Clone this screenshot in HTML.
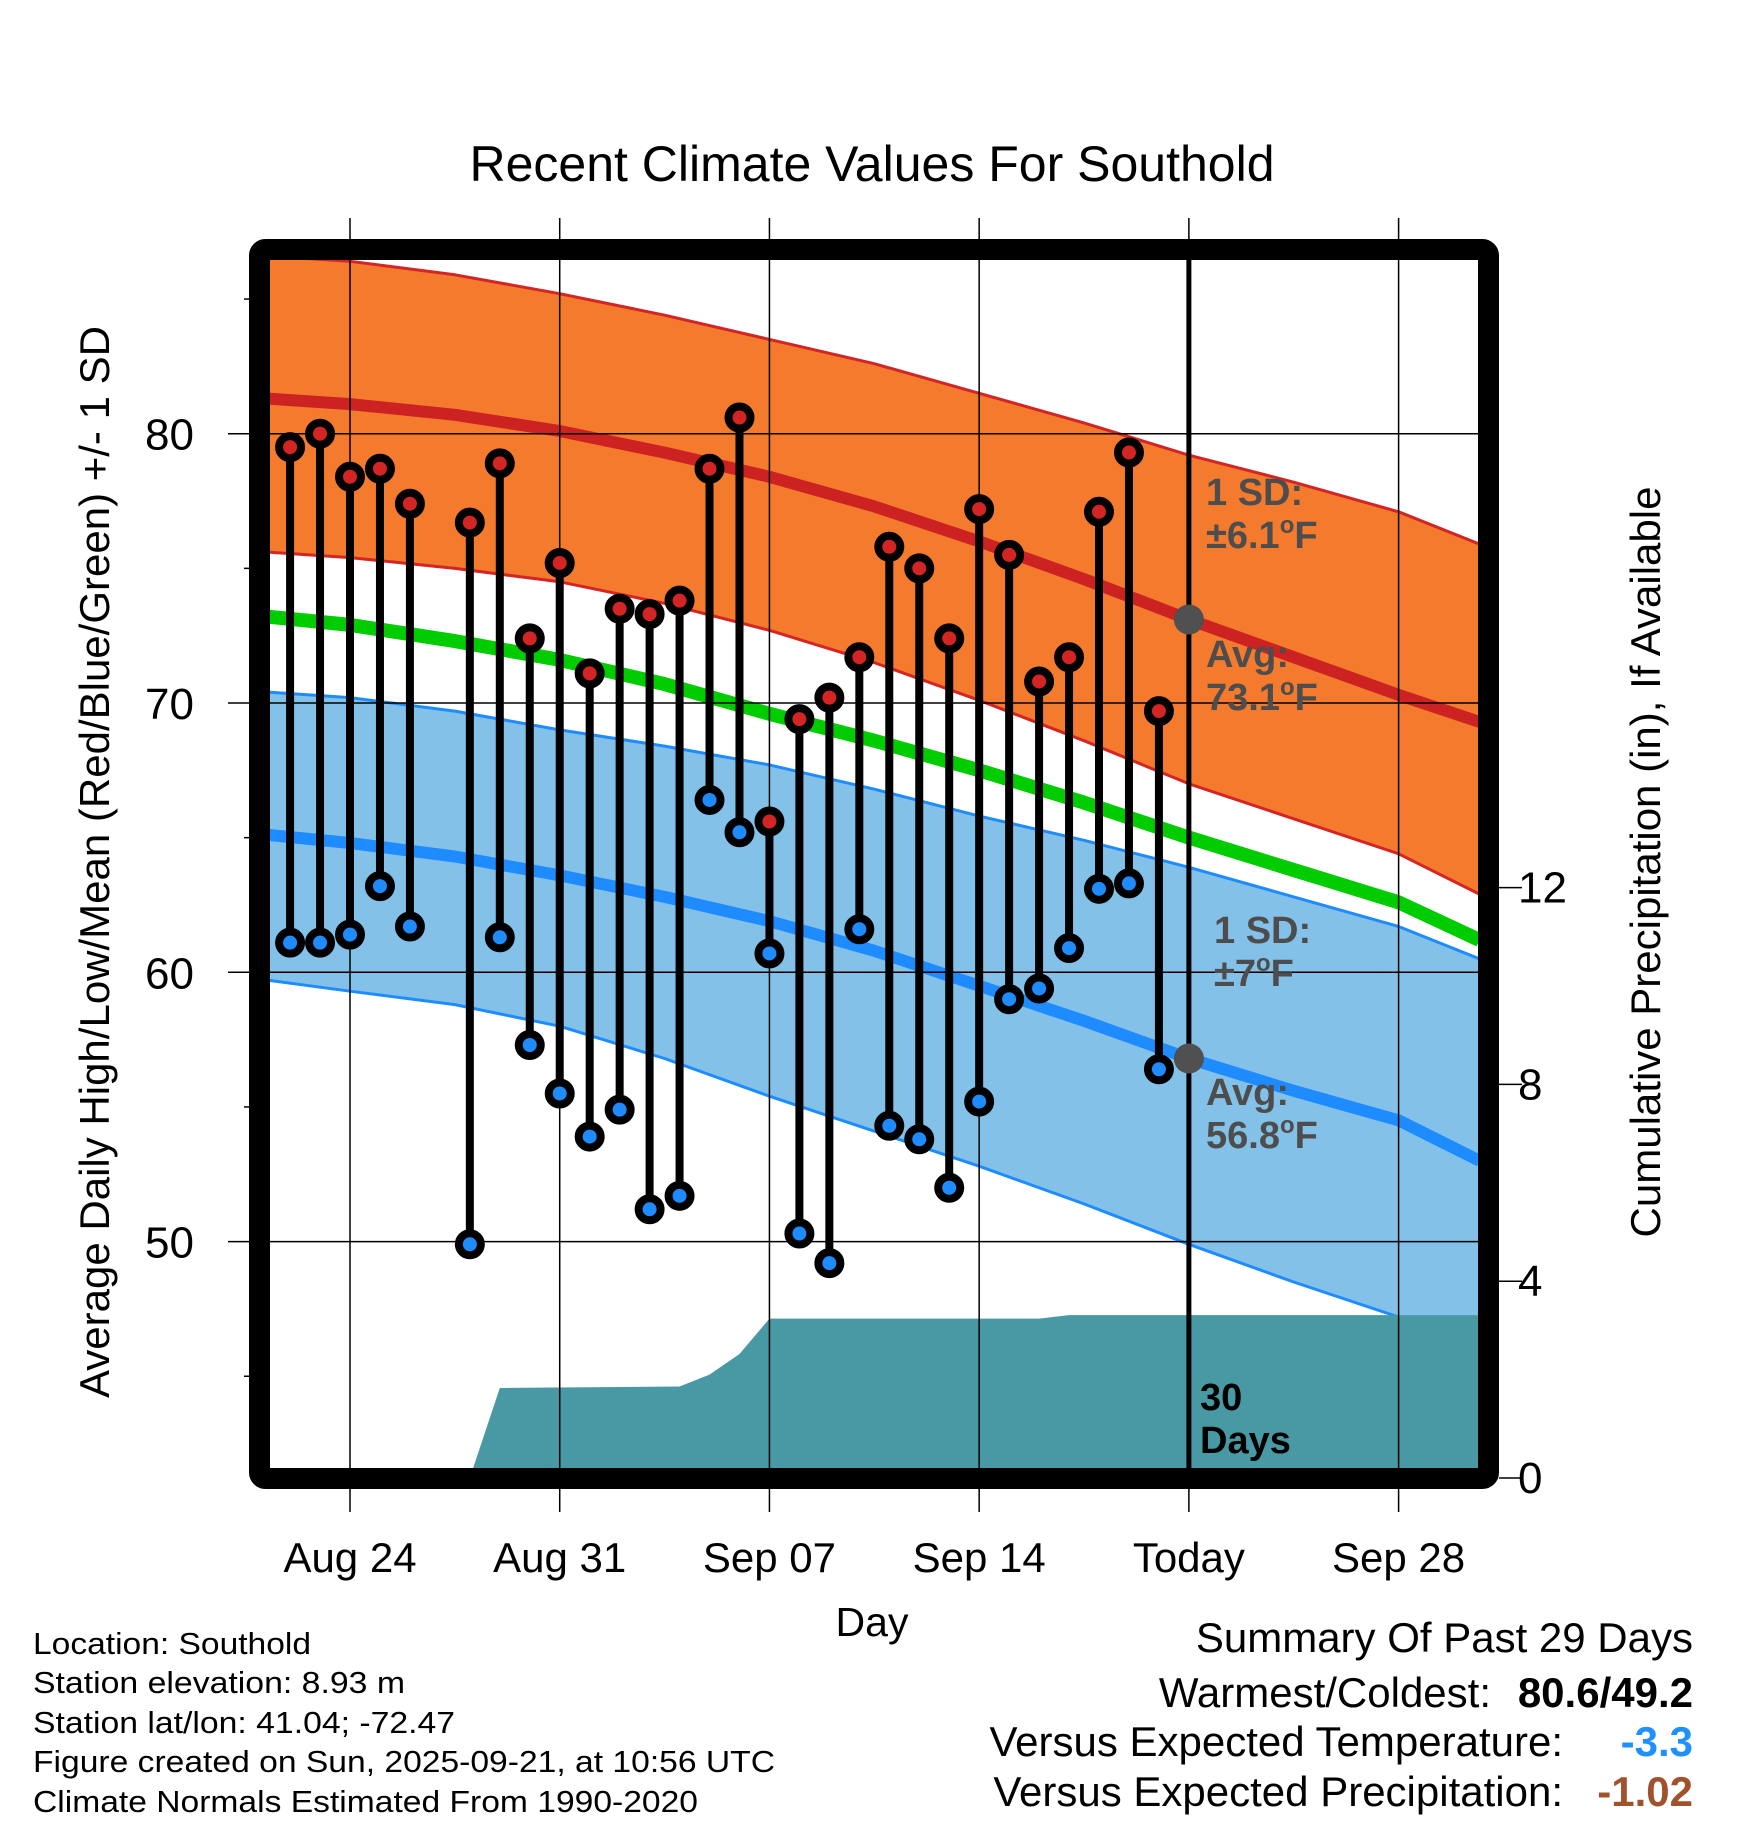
<!DOCTYPE html>
<html><head><meta charset="utf-8"><style>
html,body{margin:0;padding:0;background:#fff;}
svg{display:block;font-family:"Liberation Sans",Arial,sans-serif;}
</style></head><body>
<svg id="chart" width="1748" height="1828" viewBox="0 0 1748 1828" xmlns="http://www.w3.org/2000/svg">
<defs><clipPath id="plotclip"><rect x="270" y="260" width="1208" height="1208"/></clipPath></defs>
<rect width="1748" height="1828" fill="#fff"/>
<text x="872" y="181" font-size="50" text-anchor="middle">Recent Climate Values For Southold</text>
<g id="plot" clip-path="url(#plotclip)"></g>
<g id="over"></g>
<text x="872" y="1636" font-size="41" text-anchor="middle">Day</text>
<text transform="translate(109,862) rotate(-90)" font-size="42" text-anchor="middle">Average Daily High/Low/Mean (Red/Blue/Green) +/- 1 SD</text>
<text transform="translate(1660,862) rotate(-90)" font-size="42" text-anchor="middle">Cumulative Precipitation (in), If Available</text>
<g font-size="31">
<text x="33" y="1654" textLength="278" lengthAdjust="spacingAndGlyphs">Location: Southold</text>
<text x="33" y="1693" textLength="372" lengthAdjust="spacingAndGlyphs">Station elevation: 8.93 m</text>
<text x="33" y="1733" textLength="422" lengthAdjust="spacingAndGlyphs">Station lat/lon: 41.04; -72.47</text>
<text x="33" y="1772" textLength="742" lengthAdjust="spacingAndGlyphs">Figure created on Sun, 2025-09-21, at 10:56 UTC</text>
<text x="33" y="1812" textLength="665" lengthAdjust="spacingAndGlyphs">Climate Normals Estimated From 1990-2020</text>
</g>
<g font-size="42">
<text x="1693" y="1652" text-anchor="end">Summary Of Past 29 Days</text>
<text x="1491" y="1707" text-anchor="end">Warmest/Coldest:</text>
<text x="1693" y="1707" text-anchor="end" font-weight="bold">80.6/49.2</text>
<text x="1563" y="1756" text-anchor="end">Versus Expected Temperature:</text>
<text x="1693" y="1756" text-anchor="end" font-weight="bold" fill="#1E90FF">-3.3</text>
<text x="1563" y="1806" text-anchor="end">Versus Expected Precipitation:</text>
<text x="1693" y="1806" text-anchor="end" font-weight="bold" fill="#A0522D">-1.02</text>
</g>
<script>
// day offsets relative to Aug 24
const obsDays = [-2,-1,0,1,2,4,5,6,7,8,9,10,11,12,13,14,15,16,17,18,19,20,21,22,23,24,25,26,27];
const highs = [79.5,80.0,78.4,78.7,77.4,76.7,78.9,72.4,75.2,71.1,73.5,73.3,73.8,78.7,80.6,65.6,69.4,70.2,71.7,75.8,75.0,72.4,77.2,75.5,70.8,71.7,77.1,79.3,69.7];
const lows = [61.1,61.1,61.4,63.2,61.7,49.9,61.3,57.3,55.5,53.9,54.9,51.2,51.7,66.4,65.2,60.7,50.3,49.2,61.6,54.3,53.8,52.0,55.2,59.0,59.4,60.9,63.1,63.3,56.4];
const normDays = [-2.7,0,3.5,7,10.5,14,17.5,21,24.5,28,31.5,35,37.7];
const highAvg = [81.3,81.1,80.7,80.1,79.3,78.4,77.3,76.0,74.6,73.1,71.7,70.3,69.3];
const highUp = [86.6,86.4,85.9,85.2,84.4,83.5,82.6,81.5,80.4,79.2,78.2,77.1,75.9];
const highLo = [75.6,75.4,75.0,74.5,73.7,72.7,71.5,70.1,68.6,67.0,65.7,64.4,62.9];
const meanAvg = [73.2,72.9,72.3,71.6,70.7,69.6,68.6,67.5,66.3,65.0,63.8,62.6,61.2];
const lowAvg = [65.1,64.8,64.3,63.6,62.8,61.9,60.8,59.5,58.2,56.8,55.6,54.5,53.0];
const lowUp = [70.4,70.2,69.7,69.0,68.4,67.7,66.8,65.8,64.9,63.9,62.8,61.7,60.5];
const lowLo = [59.7,59.3,58.8,58.0,56.8,55.4,54.1,52.8,51.4,49.9,48.5,47.2,46.2];
const precipDays = [4,5,11,12,13,14,23,24,37.7];
const precipVals = [0,1.83,1.86,2.1,2.52,3.24,3.24,3.31,3.31];
const xTickDays = [0,7,14,21,28,35];
const xTickLabels = ["Aug 24","Aug 31","Sep 07","Sep 14","Today","Sep 28"];
const yTicks = [50,60,70,80];
const yMinor = [45,55,65,75,85];
const pTicks = [0,4,8,12];
const todayDay = 28;

const NS="http://www.w3.org/2000/svg";
const X=d=>350+d*29.96;
const Y=v=>433.7-(v-80)*26.93;
const P=v=>1478-v*49.2;
const plot=document.getElementById('plot');
const over=document.getElementById('over');
function mk(tag,attrs,parent){const e=document.createElementNS(NS,tag);for(const k in attrs)e.setAttribute(k,attrs[k]);parent.appendChild(e);return e;}
function pts(ds,vs){return ds.map((d,i)=>X(d).toFixed(1)+','+Y(vs[i]).toFixed(1));}
function band(up,lo,fill,name){
  const p=pts(normDays,up).concat(pts(normDays,lo).reverse());
  const e=mk('polygon',{points:p.join(' '),fill:fill},plot);
  
  
}
function line(vs,col,w,name){
  const e=mk('polyline',{points:pts(normDays,vs).join(' '),fill:'none',stroke:col,'stroke-width':w,'stroke-linejoin':'round'},plot);
  
  
}
band(highUp,highLo,'#F47A2E','high-sd-band');
line(highUp,'#D42525',3,'high-upper-sd-line');
line(highLo,'#D42525',3,'high-lower-sd-line');
band(lowUp,lowLo,'#84C1E8','low-sd-band');
line(lowUp,'#1E8CFF',3,'low-upper-sd-line');
line(lowLo,'#1E8CFF',3,'low-lower-sd-line');
{
  let p=[X(precipDays[0])+','+P(0)];
  precipDays.forEach((d,i)=>p.push(X(d)+','+P(precipVals[i])));
  p.push(X(precipDays[precipDays.length-1])+','+P(0));
  const e=mk('polygon',{points:p.join(' '),fill:'#4899A3'},plot);
  
  
}
line(meanAvg,'#00CC00',14,'mean-avg-line');
line(lowAvg,'#1E8CFF',12,'low-avg-line');
line(highAvg,'#CC2222',12,'high-avg-line');
xTickDays.forEach(d=>{
  const e=mk('line',{x1:X(d),x2:X(d),y1:218,y2:1512,stroke:'#000','stroke-width':1.5},over);
  
  
});
yTicks.forEach(v=>{
  const e=mk('line',{x1:228,x2:1478,y1:Y(v),y2:Y(v),stroke:'#000','stroke-width':1.5},over);
  
  
  const t=mk('text',{x:194,y:Y(v)+16,'font-size':44,'text-anchor':'end'},over);
  t.textContent=v;
  
  
});
yMinor.forEach(v=>{
  const e=mk('line',{x1:244,x2:260,y1:Y(v),y2:Y(v),stroke:'#000','stroke-width':1.5},over);
  
  
});
pTicks.forEach(v=>{
  const e=mk('line',{x1:1499,x2:1522,y1:P(v),y2:P(v),stroke:'#000','stroke-width':1.5},over);
  
  
  const t=mk('text',{x:1518,y:P(v)+15,'font-size':44},over);
  t.textContent=v;
  
  
});
xTickDays.forEach((d,i)=>{
  const t=mk('text',{x:X(d),y:1572,'font-size':42,'text-anchor':'middle'},over);
  t.textContent=xTickLabels[i];
  
  
});
{
  const e=mk('line',{x1:X(todayDay),x2:X(todayDay),y1:260,y2:1470,stroke:'#000','stroke-width':5},over);
  
  
}
obsDays.forEach((d,i)=>{
  const s=mk('line',{x1:X(d),x2:X(d),y1:Y(highs[i]),y2:Y(lows[i]),stroke:'#000','stroke-width':8},over);
  
  
});
obsDays.forEach((d,i)=>{
  const h=mk('circle',{cx:X(d),cy:Y(highs[i]),r:11,fill:'#D42525',stroke:'#000','stroke-width':8},over);
  
  
  const l=mk('circle',{cx:X(d),cy:Y(lows[i]),r:11,fill:'#1E8CFF',stroke:'#000','stroke-width':8},over);
  
  
});
[highAvg[9],lowAvg[9]].forEach(v=>{
  const c=mk('circle',{cx:X(todayDay),cy:Y(v),r:15,fill:'#505050'},over);
  
  
});
{
  const f=mk('rect',{x:259.5,y:249.5,width:1229,height:1229,rx:6,fill:'none',stroke:'#000','stroke-width':21},over);
  
  
}
function ann(x,y,lines,col,name){
  const g=mk('g',{},over);
  
  
  lines.forEach((ln,i)=>{
    const t=mk('text',{x:x,y:y+i*43,'font-size':38,'font-weight':'bold',fill:col},g);
    const main=mk('tspan',{},t);
    main.textContent=ln[0];
    if(ln[1]){
      const o=mk('tspan',{'font-size':24,dy:-15},t);
      o.textContent='o';
      const f=mk('tspan',{dy:15},t);
      f.textContent='F';
    }
  });
}
ann(1206,505,[['1 SD:',0],['±6.1',1]],'#4d4d4d','high-sd-annotation');
ann(1206,667,[['Avg:',0],['73.1',1]],'#4d4d4d','high-avg-annotation');
ann(1214,943,[['1 SD:',0],['±7',1]],'#4d4d4d','low-sd-annotation');
ann(1206,1105,[['Avg:',0],['56.8',1]],'#4d4d4d','low-avg-annotation');
ann(1200,1410,[['30',0],['Days',0]],'#000','days-annotation');
</script>
</svg>
</body></html>
